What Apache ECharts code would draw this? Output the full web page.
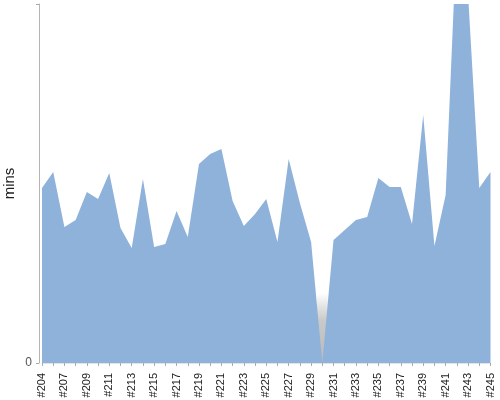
<!DOCTYPE html>
<html>
<head>
<meta charset="utf-8">
<script src="https://cdn.jsdelivr.net/npm/echarts@6/dist/echarts.min.js"></script>
<style>
html,body{margin:0;padding:0;background:#fff;}
#chart{width:500px;height:400px;}
</style>
</head>
<body>
<div id="chart"></div>
<script>
// Categories (build numbers)
var categories = ['#204','#206','#207','#208','#209','#210','#211','#212','#213','#214',
  '#215','#216','#217','#218','#219','#220','#221','#222','#223','#224',
  '#225','#226','#227','#228','#229','#230','#231','#232','#233','#234',
  '#235','#236','#237','#238','#239','#240','#241','#242','#243','#244','#245'];
// Duration in minutes
var mins = [17.5,19.1,13.6,14.3,17.1,16.4,19.0,13.5,11.5,18.4,
  11.6,11.9,15.2,12.6,19.9,20.9,21.4,16.2,13.7,14.9,
  16.4,12.1,20.4,16.0,12.1,0,12.3,13.3,14.3,14.6,
  18.5,17.6,17.6,13.9,24.8,11.7,16.8,43.2,36.8,17.5,19.1];
// Gap marker (grey band) at the zero build
var gap = [null,null,null,null,null,null,null,null,null,null,
  null,null,null,null,null,null,null,null,null,null,
  null,null,null,null,null,7.0,null,null,null,null,
  null,null,null,null,null,null,null,null,null,null,null];
var yTicks = ['0'];

var chart = echarts.init(document.getElementById('chart'), null, {renderer:'canvas'});
chart.setOption({
  animation:false,
  backgroundColor:'#ffffff',
  grid:{left:42, right:9.5, top:4, bottom:37, containLabel:false, outerBoundsMode:'none'},
  xAxis:{
    type:'category',
    data:categories,
    boundaryGap:false,
    offset:6,
    axisLine:{show:true, lineStyle:{color:'#e4e4e4', width:1}},
    axisTick:{show:true, interval:0, length:3, lineStyle:{color:'#aaaaaa'}},
    axisLabel:{interval:1, rotate:90, margin:4, color:'#222', fontSize:11,
      fontFamily:'Liberation Sans, Arial, sans-serif'},
    splitLine:{show:false}
  },
  yAxis:{
    type:'value',
    min:0, max:35.9, interval:35.9,
    offset:3,
    name:'mins',
    nameLocation:'middle',
    nameGap:22,
    nameMoveOverlap:false,
    nameRotate:90,
    nameTextStyle:{color:'#222', fontSize:15, fontFamily:'Liberation Sans, Arial, sans-serif'},
    axisLine:{show:true, lineStyle:{color:'#b4b4b4', width:1}},
    axisTick:{show:true, length:3, lineStyle:{color:'#aaaaaa'}},
    axisLabel:{color:'#555', fontSize:12, margin:7,
      fontFamily:'Liberation Sans, Arial, sans-serif',
      formatter:function(v){ return v===0 ? yTicks[0] : ''; }},
    splitLine:{show:false}
  },
  series:[
    {
      type:'bar',
      data:gap,
      barWidth:11,
      z:1,
      silent:true,
      itemStyle:{color:new echarts.graphic.LinearGradient(0,0,0,1,[
        {offset:0,color:'rgba(190,190,190,0)'},
        {offset:0.4,color:'rgba(195,195,195,0.9)'},
        {offset:1,color:'rgba(185,185,185,1)'}])}
    },
    {
      type:'line',
      data:mins,
      z:2,
      symbol:'none',
      clip:true,
      lineStyle:{width:0},
      areaStyle:{color:'#8fb2db', opacity:1}
    }
  ]
});
</script>
</body>
</html>
